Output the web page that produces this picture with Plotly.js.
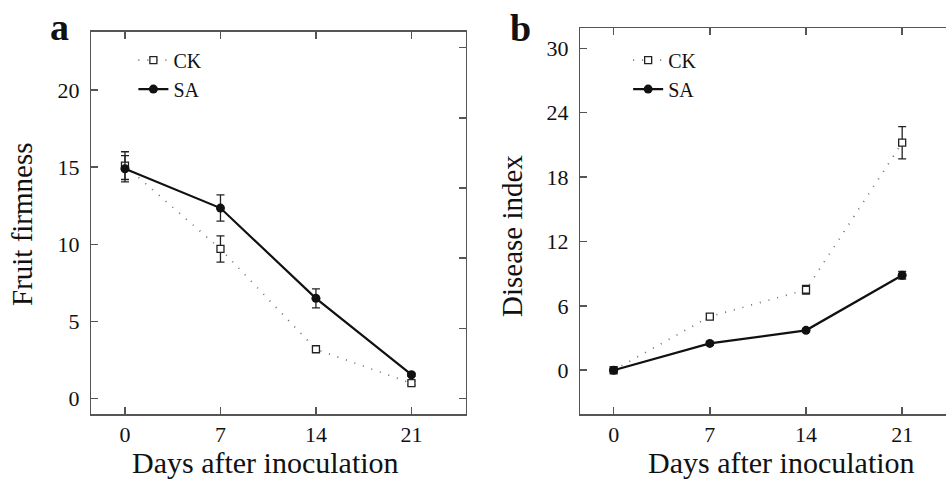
<!DOCTYPE html>
<html>
<head>
<meta charset="utf-8">
<script src="https://cdn.plot.ly/plotly-3.0.1.min.js"></script>
<style>html,body{margin:0;padding:0;background:#fff}#chart{width:946px;height:480px}</style>
</head>
<body>
<div id="chart"></div>
<script>
// ---- data ----
const days = [0, 7, 14, 21];
const dayTicks = ['0', '7', '14', '21'];

// panel a: Fruit firmness
const firmCK = [15.1, 9.7, 3.2, 1.0];
const firmCKErr = [0.9, 0.85, 0.12, 0.12];
const firmSA = [14.9, 12.35, 6.5, 1.55];
const firmSAErr = [0.85, 0.85, 0.62, 0.1];
const firmTicks = [0, 5, 10, 15, 20];
const firmRightTicks = [0, 4.55, 9.1, 13.65, 18.2, 22.75];

// panel b: Disease index
const disCK = [0, 5.0, 7.5, 21.2];
const disCKErr = [0.1, 0.25, 0.4, 1.5];
const disSA = [0, 2.5, 3.72, 8.85];
const disSAErr = [0.1, 0.15, 0.15, 0.35];
const disTicks = [0, 6, 12, 18, 24, 30];

const seriesNames = ['CK', 'SA'];
const panelLabels = ['a', 'b'];
const yTitles = ['Fruit firmness', 'Disease index'];
const xTitle = 'Days after inoculation';

// ---- styles ----
const FONT = '"Liberation Serif", "Times New Roman", serif';
const axisCol = '#555';
const ckLine = {color: '#6e6e6e', width: 1.7, dash: '1px,8px'};
const ckMarker = {symbol: 'square', size: 7, color: '#fff', line: {color: '#222', width: 1.3}};
const saLine = {color: '#111', width: 2.2};
const saMarker = {symbol: 'circle', size: 9, color: '#111'};
const err = (a) => ({type: 'data', array: a, visible: true, color: '#222', thickness: 1.3, width: 4});

const traces = [
  {x: days, y: firmCK, error_y: err(firmCKErr), name: seriesNames[0], mode: 'lines+markers',
   line: ckLine, marker: ckMarker, xaxis: 'x', yaxis: 'y', legend: 'legend'},
  {x: days, y: firmSA, error_y: err(firmSAErr), name: seriesNames[1], mode: 'lines+markers',
   line: saLine, marker: saMarker, xaxis: 'x', yaxis: 'y', legend: 'legend'},
  {x: days, y: disCK, error_y: err(disCKErr), name: seriesNames[0], mode: 'lines+markers',
   line: ckLine, marker: ckMarker, xaxis: 'x2', yaxis: 'y2', legend: 'legend2'},
  {x: days, y: disSA, error_y: err(disSAErr), name: seriesNames[1], mode: 'lines+markers',
   line: saLine, marker: saMarker, xaxis: 'x2', yaxis: 'y2', legend: 'legend2'},
  // invisible helper for right-side ticks of panel a
  {x: [days[0]], y: [firmCK[0]], xaxis: 'x', yaxis: 'y3', mode: 'markers', marker: {opacity: 0},
   showlegend: false, hoverinfo: 'skip'}
];

const tickFont = {family: FONT, size: 22, color: '#111'};
const baseX = {
  tickvals: days, ticktext: dayTicks, ticks: 'inside', ticklen: 7, tickwidth: 1.5, tickcolor: axisCol,
  showline: true, linecolor: axisCol, linewidth: 1.5, mirror: 'ticks', showgrid: false, zeroline: false,
  tickfont: tickFont, ticklabelstandoff: 0
};
const baseY = {
  ticks: 'inside', ticklen: 7, tickwidth: 1.5, tickcolor: axisCol,
  showline: true, linecolor: axisCol, linewidth: 1.5, showgrid: false, zeroline: false,
  tickfont: tickFont, ticklabelstandoff: 6
};
const legendBase = {
  font: {family: FONT, size: 20, color: '#111'}, bgcolor: 'rgba(0,0,0,0)', borderwidth: 0,
  xanchor: 'left', yanchor: 'top', tracegroupgap: 0, itemwidth: 30
};

const layout = {
  width: 946, height: 480,
  margin: {l: 0, r: 0, t: 0, b: 0},
  paper_bgcolor: '#fff', plot_bgcolor: '#fff',
  showlegend: true,
  xaxis: Object.assign({}, baseX, {domain: [0.0965, 0.4926], range: [-2.47, 25.0], anchor: 'y'}),
  yaxis: Object.assign({}, baseY, {domain: [0.137, 0.934], range: [-1.01, 23.78], tickvals: firmTicks, anchor: 'x'}),
  yaxis3: Object.assign({}, baseY, {overlaying: 'y', side: 'right', anchor: 'x', range: [-1.01, 23.78],
    tickvals: firmRightTicks, showticklabels: false}),
  xaxis2: Object.assign({}, baseX, {domain: [0.6134, 1.0], range: [-2.43, 24.19], anchor: 'y2'}),
  yaxis2: Object.assign({}, baseY, {domain: [0.137, 0.941], range: [-4.10, 31.86], tickvals: disTicks, anchor: 'x2'}),
  legend: Object.assign({}, legendBase, {x: 0.141, y: 0.9155}),
  legend2: Object.assign({}, legendBase, {x: 0.664, y: 0.9155}),
  annotations: [
    {text: '<b>' + panelLabels[0] + '</b>', xref: 'paper', yref: 'paper', x: 59 / 946, y: 1 - 27 / 480,
     showarrow: false, font: {family: FONT, size: 38, color: '#111'}, xanchor: 'center', yanchor: 'middle'},
    {text: '<b>' + panelLabels[1] + '</b>', xref: 'paper', yref: 'paper', x: 520 / 946, y: 1 - 28 / 480,
     showarrow: false, font: {family: FONT, size: 38, color: '#111'}, xanchor: 'center', yanchor: 'middle'},
    {text: yTitles[0], xref: 'paper', yref: 'paper', x: 22 / 946, y: 1 - 224 / 480, textangle: -90,
     showarrow: false, font: {family: FONT, size: 29, color: '#111'}, xanchor: 'center', yanchor: 'middle'},
    {text: yTitles[1], xref: 'paper', yref: 'paper', x: 512 / 946, y: 1 - 236 / 480, textangle: -90,
     showarrow: false, font: {family: FONT, size: 29, color: '#111'}, xanchor: 'center', yanchor: 'middle'},
    {text: xTitle, xref: 'paper', yref: 'paper', x: 265 / 946, y: 0,
     showarrow: false, font: {family: FONT, size: 30, color: '#111'}, xanchor: 'center', yanchor: 'bottom', borderpad: 0},
    {text: xTitle, xref: 'paper', yref: 'paper', x: 781 / 946, y: 0,
     showarrow: false, font: {family: FONT, size: 30, color: '#111'}, xanchor: 'center', yanchor: 'bottom', borderpad: 0}
  ]
};

Plotly.newPlot('chart', traces, layout, {staticPlot: true, displayModeBar: false});
</script>
</body>
</html>
